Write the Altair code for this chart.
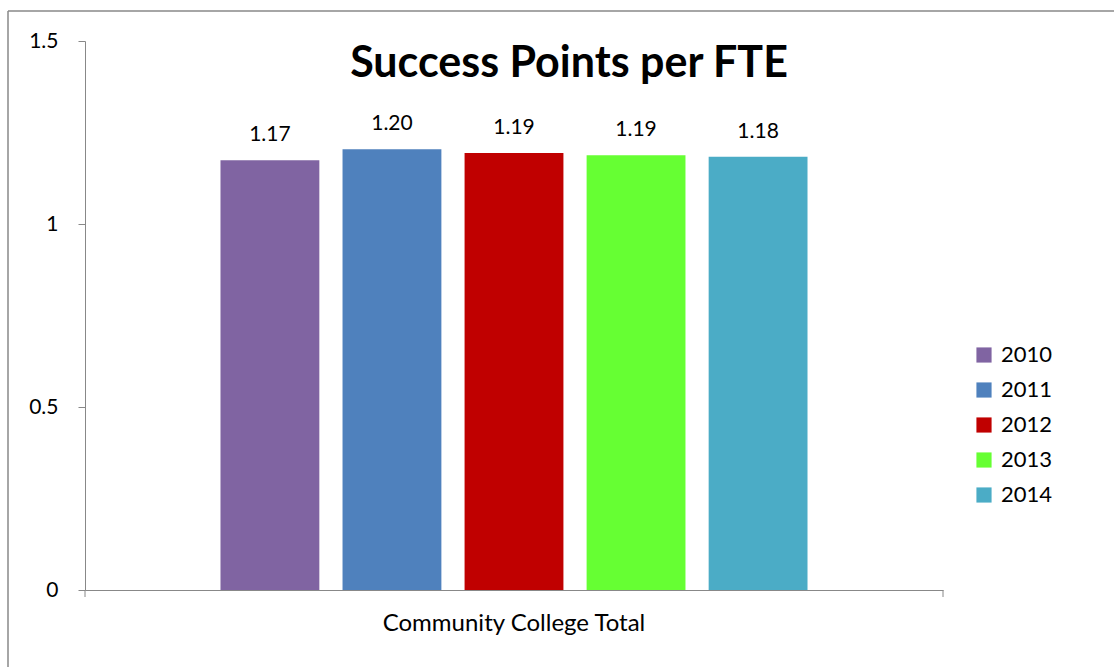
import altair as alt
import pandas as pd

years = ["2010", "2011", "2012", "2013", "2014"]
values = [1.174, 1.204, 1.194, 1.188, 1.184]
category = "Community College Total"
colors = ["#8064A2", "#4F81BD", "#C00000", "#66FF33", "#4BACC6"]
title_text = "Success Points per FTE"
y_ticks = [0, 0.5, 1, 1.5]

df = pd.DataFrame({"cat": [category] * len(years), "year": years, "value": values})

W, H = 858, 549
FONT = "Lato"
FS = 21

base = alt.Chart(df)

x_enc = alt.X("cat:N", title=None,
              scale=alt.Scale(paddingInner=0, paddingOuter=0.2308),
              axis=alt.Axis(labelAngle=0, ticks=False, domainColor="#888888",
                            labelFontSize=24, labelFont=FONT, labelColor="black",
                            labelPadding=21, labelLimit=0))
y_enc = alt.Y("value:Q", title=None,
              scale=alt.Scale(domain=[0, 1.5], nice=False),
              axis=alt.Axis(values=y_ticks, format=".1~f", grid=False, domainColor="#888888",
                            tickColor="#888888", tickSize=7, labelFontSize=FS,
                            labelFont=FONT, labelColor="black", labelPadding=20))
xoff = alt.XOffset("year:N", scale=alt.Scale(paddingInner=0.19, paddingOuter=0))

bars = base.mark_bar().encode(
    x=x_enc, y=y_enc, xOffset=xoff,
    color=alt.Color("year:N", scale=alt.Scale(domain=years, range=colors),
                    legend=alt.Legend(title=None, orient="none", legendX=888, legendY=303,
                                      symbolType="square", symbolSize=230,
                                      symbolStrokeWidth=0, labelFontSize=22,
                                      labelFont=FONT, labelColor="black",
                                      rowPadding=13, labelOffset=6)),
)

labels = base.mark_text(baseline="bottom", dy=-15, fontSize=FS, font=FONT, color="black").encode(
    x=alt.X("cat:N"), xOffset=xoff, y=alt.Y("value:Q"),
    text=alt.Text("value:Q", format=".2f"),
)

one = pd.DataFrame({"t": [title_text]})
title = alt.Chart(one).mark_text(fontSize=43, fontWeight="bold", font=FONT, color="black",
                                 baseline="middle").encode(
    x=alt.value(W / 2 + 55), y=alt.value(23), text="t:N")

# x-axis edge ticks (Excel style)
tick_l = alt.Chart(one).mark_rule(color="#888888").encode(
    x=alt.value(0), y=alt.value(H), y2=alt.value(H + 7))
tick_r = alt.Chart(one).mark_rule(color="#888888").encode(
    x=alt.value(W), y=alt.value(H), y2=alt.value(H + 7))

# outer frame
frame_top = alt.Chart(one).mark_rule(color="#888888", strokeWidth=1.5).encode(
    x=alt.value(-77), x2=alt.value(1100), y=alt.value(-30))
frame_left = alt.Chart(one).mark_rule(color="#888888", strokeWidth=1.5).encode(
    x=alt.value(-77), y=alt.value(-30), y2=alt.value(700))

chart = alt.layer(bars, labels, title, tick_l, tick_r, frame_top, frame_left).properties(
    width=W, height=H,
    autosize=alt.AutoSizeParams(type="none"),
    padding={"left": 85, "top": 41, "right": 171, "bottom": 77},
).configure(background="white").configure_view(stroke=None, strokeWidth=0)

chart.save("out.html", embed_options={"renderer": "svg", "actions": False})
